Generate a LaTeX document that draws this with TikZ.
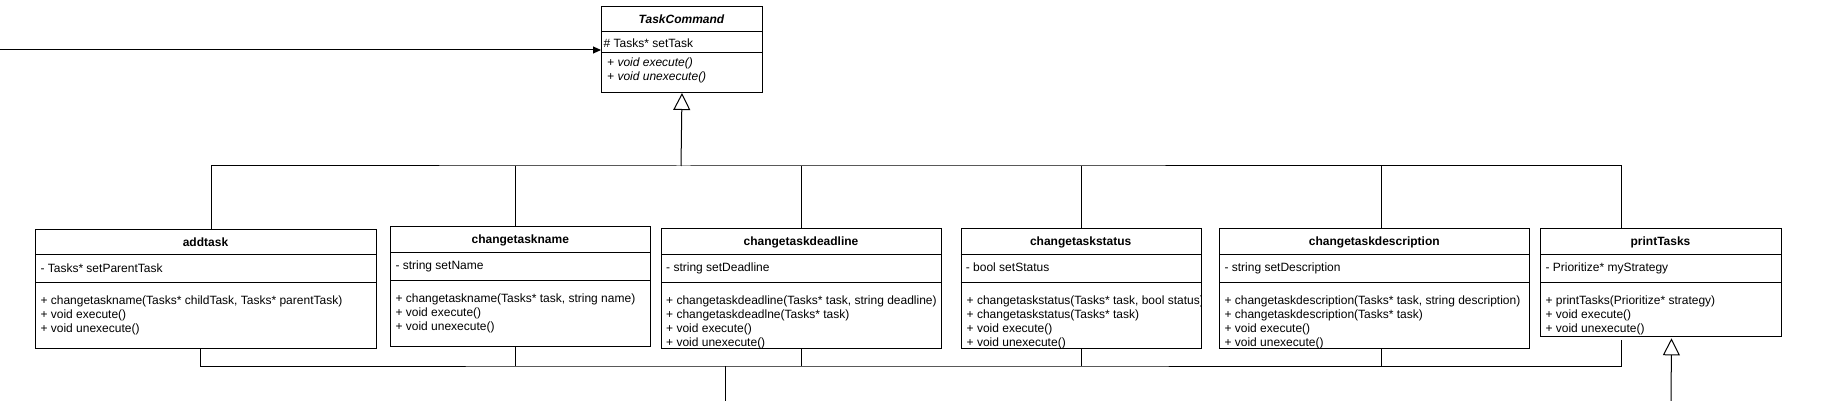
\documentclass[tikz,border=0pt]{standalone}
\usepackage{fontspec}
\setmainfont{Liberation Sans}
\usetikzlibrary{arrows.meta}

\begin{document}
\begin{tikzpicture}[x=1pt, y=-1pt,
    line/.style={draw=black, line width=1pt},
    classbox/.style={draw=black, line width=1pt, fill=white, anchor=north west, inner sep=0pt},
    classname/.style={anchor=base, inner sep=0pt, font=\fontsize{12}{14}\selectfont\bfseries},
    member/.style={anchor=base west, inner sep=0pt, font=\fontsize{12}{14}\selectfont},
    methods/.style={anchor=north west, align=left, inner sep=0pt, font=\fontsize{12}{14}\selectfont},
    inherit/.style={line, -{Triangle[width=17pt, length=17pt, fill=white]}}]
    \useasboundingbox (0,0) rectangle (1837,401);

    % TaskCommand (abstract)
    \node[classbox, minimum width=161pt, minimum height=86pt] (taskcommand) at (601,6) {};
    \draw[line] (601,32) -- (762,32);
    \draw[line] (601,52.5) -- (762,52.5);
    \node[classname, font=\fontsize{12}{14}\selectfont\bfseries\itshape] (taskcommand-name) at (681.5,24) {TaskCommand};
    \node[member] (taskcommand-attr) at (603.5,47.6) {\# Tasks* setTask};
    \node[methods, font=\fontsize{12}{14.3}\selectfont\itshape] (taskcommand-ops) at (607,57.6) {+ void execute()\\+ void unexecute()};

    % addtask
    \node[classbox, minimum width=340.4pt, minimum height=119.6pt] (addtask) at (35.3,228.7) {};
    \draw[line] (35.3,254.3) -- (375.7,254.3);
    \draw[line] (35.3,282.3) -- (375.7,282.3);
    \node[classname] (addtask-name) at (205.5,246) {addtask};
    \node[member] (addtask-attr) at (40.3,272) {- Tasks* setParentTask};
    \node[methods] (addtask-ops) at (40.3,295.7) {+ changetaskname(Tasks* childTask, Tasks* parentTask)\\+ void execute()\\+ void unexecute()};

    % changetaskname
    \node[classbox, minimum width=260pt, minimum height=120pt] (changename) at (390.3,226.3) {};
    \draw[line] (390.3,252.1) -- (650.3,252.1);
    \draw[line] (390.3,280.1) -- (650.3,280.1);
    \node[classname] (changename-name) at (520.3,243.6) {changetaskname};
    \node[member] (changename-attr) at (395.3,269.6) {- string setName};
    \node[methods] (changename-ops) at (395.3,293.3) {+ changetaskname(Tasks* task, string name)\\+ void execute()\\+ void unexecute()};

    % changetaskdeadline
    \node[classbox, minimum width=280pt, minimum height=120pt] (changedeadline) at (661,228.3) {};
    \draw[line] (661,254.1) -- (941,254.1);
    \draw[line] (661,282.1) -- (941,282.1);
    \node[classname] (changedeadline-name) at (801,245.6) {changetaskdeadline};
    \node[member] (changedeadline-attr) at (666,271.6) {- string setDeadline};
    \node[methods] (changedeadline-ops) at (666,295.3) {+ changetaskdeadline(Tasks* task, string deadline)\\+ changetaskdeadlne(Tasks* task)\\+ void execute()\\+ void unexecute()};

    % changetaskstatus
    \node[classbox, minimum width=240pt, minimum height=120pt] (changestatus) at (960.7,228.3) {};
    \draw[line] (960.7,254.1) -- (1200.7,254.1);
    \draw[line] (960.7,282.1) -- (1200.7,282.1);
    \node[classname] (changestatus-name) at (1080.7,245.6) {changetaskstatus};
    \node[member] (changestatus-attr) at (965.7,271.6) {- bool setStatus};
    \begin{scope}
        \clip (changestatus.north west) rectangle ([xshift=-1pt]changestatus.south east);
        \node[methods] (changestatus-ops) at (966.5,295.3) {+ changetaskstatus(Tasks* task, bool status)\\+ changetaskstatus(Tasks* task)\\+ void execute()\\+ void unexecute()};
    \end{scope}

    % changetaskdescription
    \node[classbox, minimum width=310pt, minimum height=120pt] (changedescription) at (1219.3,228.3) {};
    \draw[line] (1219.3,254.1) -- (1529.3,254.1);
    \draw[line] (1219.3,282.1) -- (1529.3,282.1);
    \node[classname] (changedescription-name) at (1374.3,245.6) {changetaskdescription};
    \node[member] (changedescription-attr) at (1224.3,271.6) {- string setDescription};
    \node[methods] (changedescription-ops) at (1224.3,295.3) {+ changetaskdescription(Tasks* task, string description)\\+ changetaskdescription(Tasks* task)\\+ void execute()\\+ void unexecute()};

    % printTasks
    \node[classbox, minimum width=240.4pt, minimum height=107.7pt] (printtasks) at (1540.3,228.3) {};
    \draw[line] (1540.3,254.1) -- (1780.7,254.1);
    \draw[line] (1540.3,282.1) -- (1780.7,282.1);
    \node[classname] (printtasks-name) at (1660.5,245.6) {printTasks};
    \node[member] (printtasks-attr) at (1545.3,271.6) {- Prioritize* myStrategy};
    \node[methods] (printtasks-ops) at (1545.3,295.3) {+ printTasks(Prioritize* strategy)\\+ void execute()\\+ void unexecute()};

    % connectors
    \coordinate (busTop) at (681,166);
    \coordinate (busBottom) at (725.3,366);
    \coordinate (cmdSource) at (0,50);
    \coordinate (lowerLink) at (725.3,401);
    \coordinate (printBase) at (1671,401);

    \draw[line, -{Triangle[width=7pt, length=8pt]}] (cmdSource) -- (taskcommand.west |- cmdSource);
    \draw[inherit] (busTop) -- (taskcommand.south);
    \draw[line] ([xshift=5.2pt]addtask.north) |- (busTop) -| ([xshift=-39.8pt]printtasks.north);
    \draw[line] ([xshift=-5pt]changename.north) -- ([xshift=-5pt]changename.north |- busTop);
    \draw[line] (changedeadline.north) -- (changedeadline.north |- busTop);
    \draw[line] (changestatus.north) -- (changestatus.north |- busTop);
    \draw[line] ([xshift=6.7pt]changedescription.north) -- ([xshift=6.7pt]changedescription.north |- busTop);

    \draw[line] ([xshift=-5.2pt]addtask.south) |- (busBottom) -| ([xshift=-39.8pt, yshift=-3.3pt]printtasks.south);
    \draw[line] ([xshift=-5pt]changename.south) -- ([xshift=-5pt]changename.south |- busBottom);
    \draw[line] (changedeadline.south) -- (changedeadline.south |- busBottom);
    \draw[line] (changestatus.south) -- (changestatus.south |- busBottom);
    \draw[line] ([xshift=6.7pt]changedescription.south) -- ([xshift=6.7pt]changedescription.south |- busBottom);
    \draw[line] (busBottom) -- (lowerLink);
    \draw[inherit] (printBase) -- ([xshift=10.5pt, yshift=-1.3pt]printtasks.south);
\end{tikzpicture}
\end{document}
